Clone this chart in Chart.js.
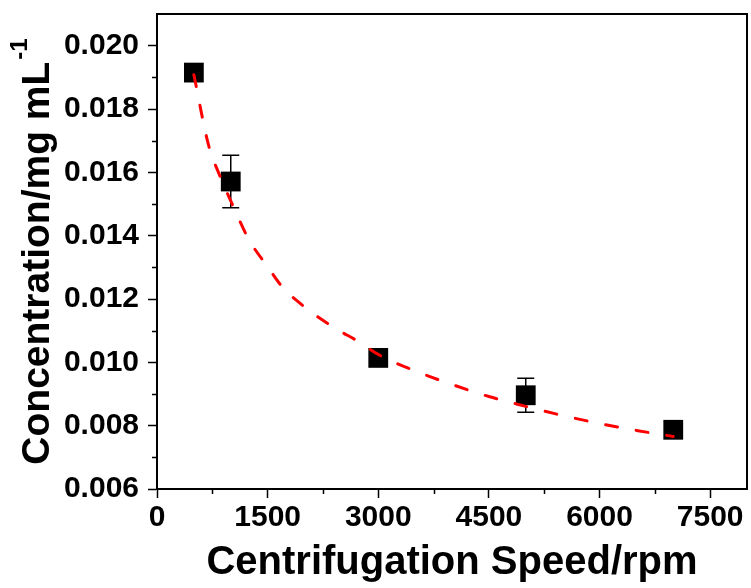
<!DOCTYPE html>
<html>
<head>
<meta charset="utf-8">
<script src="https://cdn.jsdelivr.net/npm/chart.js@4.4.1/dist/chart.umd.min.js"></script>
<style>
  html, body { margin: 0; padding: 0; background: #fff; }
</style>
</head>
<body>
<canvas id="chart" width="751" height="588"></canvas>
<script>
// measured points (rpm -> mg/mL) with symmetric error
const SPEEDS = [500, 1000, 3000, 5000, 7000];
const CONCENTRATIONS = [0.01915, 0.01571, 0.01014, 0.00896, 0.00787];
const ERRORS = [0.0002, 0.00083, 0.0002, 0.00054, 0.0002];

// dashed fit curve
const FIT_SPEEDS = [500, 700, 850, 1000, 1250, 1500, 1700, 2000, 2400, 2750, 3000, 3500, 4000, 4500, 5000, 5500, 6000, 6500, 7000];
const FIT_VALUES = [0.01908, 0.01685, 0.0159, 0.0151, 0.01386, 0.01302, 0.01238, 0.01175, 0.0111, 0.01063, 0.01025, 0.00973, 0.0093, 0.00892, 0.00861, 0.00832, 0.00807, 0.00785, 0.00766];

// tick positions (major ones get labels, the rest are minor ticks)
const X_TICKS = [0, 750, 1500, 2250, 3000, 3750, 4500, 5250, 6000, 6750, 7500];
const X_LABELED = [0, 1500, 3000, 4500, 6000, 7500];
const Y_TICKS = [0.006, 0.007, 0.008, 0.009, 0.010, 0.011, 0.012, 0.013, 0.014, 0.015, 0.016, 0.017, 0.018, 0.019, 0.020];
const Y_LABELED = [0.006, 0.008, 0.010, 0.012, 0.014, 0.016, 0.018, 0.020];

const X_TITLE = 'Centrifugation Speed/rpm';
const Y_TITLE = 'Concentration/mg mL';
const Y_TITLE_SUP = '-1';

const FONT = "'Liberation Sans', Arial, sans-serif";

const isMajorX = (v) => X_LABELED.some((m) => Math.abs(m - v) < 1e-6);
const isMajorY = (v) => Y_LABELED.some((m) => Math.abs(m - v) < 1e-9);

const extrasPlugin = {
  id: 'extras',
  beforeDatasetsDraw(chart) {
    const { ctx, scales: { x, y } } = chart;
    ctx.save();
    ctx.strokeStyle = '#000';
    ctx.lineWidth = 1.5;
    SPEEDS.forEach((s, i) => {
      const px = x.getPixelForValue(s);
      const top = y.getPixelForValue(CONCENTRATIONS[i] + ERRORS[i]);
      const bot = y.getPixelForValue(CONCENTRATIONS[i] - ERRORS[i]);
      ctx.beginPath();
      ctx.moveTo(px, top); ctx.lineTo(px, bot);
      ctx.moveTo(px - 8.5, top); ctx.lineTo(px + 8.5, top);
      ctx.moveTo(px - 8.5, bot); ctx.lineTo(px + 8.5, bot);
      ctx.stroke();
    });
    ctx.restore();
  },
  afterDraw(chart) {
    const { ctx, chartArea: a, scales: { x, y } } = chart;
    ctx.save();
    ctx.strokeStyle = '#000';
    // frame top / right
    ctx.lineWidth = 2;
    ctx.beginPath();
    ctx.moveTo(a.left - 1, a.top);
    ctx.lineTo(a.right, a.top);
    ctx.lineTo(a.right, a.bottom + 1);
    ctx.stroke();
    // minor ticks
    ctx.lineWidth = 1.5;
    ctx.beginPath();
    x.ticks.forEach((t) => {
      if (isMajorX(t.value)) return;
      const px = Math.round(x.getPixelForValue(t.value)) + 0.5;
      ctx.moveTo(px, a.bottom); ctx.lineTo(px, a.bottom + 5);
    });
    y.ticks.forEach((t) => {
      if (isMajorY(t.value)) return;
      const py = Math.round(y.getPixelForValue(t.value)) + 0.5;
      ctx.moveTo(a.left, py); ctx.lineTo(a.left - 5, py);
    });
    ctx.stroke();
    // y title with superscript
    ctx.fillStyle = '#000';
    const main = `bold 39px ${FONT}`;
    const sup = `bold 24px ${FONT}`;
    ctx.font = main;
    const w1 = ctx.measureText(Y_TITLE).width;
    ctx.font = sup;
    const w2 = ctx.measureText(Y_TITLE_SUP).width;
    ctx.translate(35, (a.top + a.bottom) / 2);
    ctx.rotate(-Math.PI / 2);
    ctx.textBaseline = 'alphabetic';
    ctx.textAlign = 'left';
    const start = -(w1 + w2 + 2) / 2;
    ctx.font = main;
    ctx.fillText(Y_TITLE, start, 14);
    ctx.font = sup;
    ctx.fillText(Y_TITLE_SUP, start + w1 + 2, -8);
    ctx.restore();
  },
};

const tickFont = { family: FONT, size: 30, weight: 'bold', lineHeight: 1.2 };

new Chart(document.getElementById('chart'), {
  type: 'scatter',
  data: {
    datasets: [
      {
        type: 'line',
        label: 'fit',
        data: FIT_SPEEDS.map((s, i) => ({ x: s, y: FIT_VALUES[i] })),
        borderColor: '#ff0000',
        borderWidth: 3,
        borderDash: [12, 19],
        borderCapStyle: 'round',
        pointRadius: 0,
        cubicInterpolationMode: 'monotone',
        fill: false,
      },
      {
        label: 'data',
        data: SPEEDS.map((s, i) => ({ x: s, y: CONCENTRATIONS[i] })),
        pointStyle: 'rect',
        pointRadius: 14,
        pointBackgroundColor: '#000',
        pointBorderColor: '#000',
        pointBorderWidth: 0,
      },
    ],
  },
  options: {
    responsive: false,
    animation: false,
    events: [],
    layout: { autoPadding: false, padding: { top: 14, right: 4, left: 0, bottom: 0 } },
    plugins: { legend: { display: false }, tooltip: { enabled: false } },
    scales: {
      x: {
        type: 'linear',
        min: 0,
        max: 8000,
        afterBuildTicks(scale) { scale.ticks = X_TICKS.map((v) => ({ value: v })); },
        afterFit(scale) {
          scale.height = 99;
          scale.paddingLeft = 0;
          scale.paddingRight = 0;
        },
        border: { display: true, color: '#000', width: 2 },
        grid: {
          drawOnChartArea: false,
          tickLength: 9,
          tickWidth: 1.5,
          tickColor: (c) => (c.tick && isMajorX(c.tick.value) ? '#000' : 'rgba(0,0,0,0)'),
        },
        ticks: {
          autoSkip: false,
          maxRotation: 0,
          padding: 2,
          color: '#000',
          font: tickFont,
          callback: (v) => (isMajorX(v) ? String(v) : ''),
        },
        title: {
          display: true,
          text: X_TITLE,
          color: '#000',
          font: { family: FONT, size: 40, weight: 'bold', lineHeight: 1.2 },
          padding: { top: 0, bottom: 1 },
        },
      },
      y: {
        type: 'linear',
        min: 0.006,
        max: 0.021,
        afterBuildTicks(scale) { scale.ticks = Y_TICKS.map((v) => ({ value: v })); },
        afterFit(scale) {
          scale.width = 157;
          scale.paddingTop = 0;
          scale.paddingBottom = 0;
        },
        border: { display: true, color: '#000', width: 2 },
        grid: {
          drawOnChartArea: false,
          tickLength: 9,
          tickWidth: 1.5,
          tickColor: (c) => (c.tick && isMajorY(c.tick.value) ? '#000' : 'rgba(0,0,0,0)'),
        },
        ticks: {
          autoSkip: false,
          padding: 9,
          color: '#000',
          font: tickFont,
          callback: (v) => (isMajorY(v) ? v.toFixed(3) : ''),
        },
      },
    },
  },
  plugins: [extrasPlugin],
});
</script>
</body>
</html>
